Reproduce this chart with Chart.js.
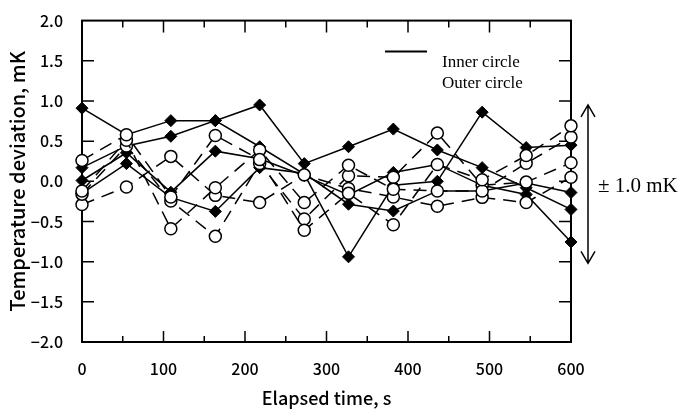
<!DOCTYPE html>
<html>
<head>
<meta charset="utf-8">
<script src="https://cdn.jsdelivr.net/npm/chart.js@4.4.0/dist/chart.umd.min.js"></script>
<style>
  html, body { margin: 0; padding: 0; background: #fff; }
</style>
</head>
<body>
<canvas id="chart" width="681" height="412"></canvas>
<script>
// elapsed time of each reading, s
const times = [0, 54.5, 109, 163.6, 218, 272.7, 327, 382, 436, 491, 545, 600];

// inner circle sensors (filled diamonds, solid lines), mK
const inner1 = [0.91, 0.58, 0.755, 0.755, 0.95, 0.22, 0.43, 0.65, 0.39, 0.17, -0.08, -0.35];
const inner2 = [0.17, 0.44, 0.56, 0.755, 0.43, 0.09, -0.94, -0.05, 0.0, 0.86, 0.42, 0.45];
const inner3 = [0.01, 0.355, -0.135, 0.375, 0.28, 0.07, -0.17, 0.11, 0.21, -0.05, -0.165, -0.755];
const inner4 = [-0.15, 0.22, -0.2, -0.375, 0.17, 0.10, -0.285, -0.37, -0.12, -0.12, -0.02, -0.14];

// outer circle sensors (open circles, dashed lines), mK
const outer1 = [0.26, 0.58, -0.196, 0.57, 0.27, -0.61, -0.15, -0.54, 0.21, 0.02, 0.32, 0.69];
const outer2 = [-0.12, 0.51, -0.59, -0.08, 0.39, -0.265, 0.20, -0.10, -0.12, -0.12, 0.225, 0.55];
const outer3 = [-0.16, 0.44, -0.245, -0.685, 0.22, -0.47, 0.07, 0.05, 0.60, -0.05, -0.01, 0.23];
const outer4 = [-0.29, -0.07, 0.31, -0.175, -0.265, 0.08, -0.09, -0.195, -0.31, -0.20, -0.265, 0.05];

const legendLabels = ["Inner circle", "Outer circle"];
const rangeLabel = "\u00b1 1.0 mK";

const GOTHIC = "'Noto Sans CJK JP', 'Noto Sans', sans-serif";
const SERIF = "'Liberation Serif', 'DejaVu Serif', serif";

function toPoints(values) {
  return values.map((v, i) => ({ x: times[i], y: v }));
}

function innerSet(values) {
  return {
    data: toPoints(values),
    showLine: true,
    borderColor: "#000",
    borderWidth: 1.5,
    pointStyle: "rectRot",
    pointRadius: 6,
    pointBackgroundColor: "#000",
    pointBorderColor: "#000",
    pointBorderWidth: 1,
    clip: false,
  };
}

function outerSet(values) {
  return {
    data: toPoints(values),
    showLine: true,
    borderColor: "#000",
    borderWidth: 1.5,
    borderDash: [13, 8],
    pointStyle: "circle",
    pointRadius: 6,
    pointBackgroundColor: "#fff",
    pointBorderColor: "#000",
    pointBorderWidth: 1.5,
    clip: false,
  };
}

// frame, inward ticks, legend and the ±1 mK arrow
const decorations = {
  id: "decorations",
  beforeDatasetsDraw(chart) {
    const { ctx, chartArea: a, scales } = chart;
    const xs = scales.x, ys = scales.y;
    ctx.save();
    ctx.strokeStyle = "#000";
    ctx.lineWidth = 2;
    ctx.strokeRect(a.left, a.top, a.right - a.left, a.bottom - a.top);
    ctx.lineWidth = 1.5;
    ctx.beginPath();
    for (let t = 50; t < 600; t += 50) {
      const px = xs.getPixelForValue(t);
      const major = t % 100 === 0;
      ctx.moveTo(px, a.bottom);
      ctx.lineTo(px, a.bottom - (major ? 11 : 6));
      ctx.moveTo(px, a.top);
      ctx.lineTo(px, a.top + (major ? 12 : 7));
    }
    for (let v = -1.5; v <= 1.5; v += 0.5) {
      const py = ys.getPixelForValue(v);
      ctx.moveTo(a.left, py);
      ctx.lineTo(a.left + 12, py);
      ctx.moveTo(a.right, py);
      ctx.lineTo(a.right - 12, py);
    }
    ctx.stroke();
    ctx.restore();
  },
  afterDraw(chart) {
    const { ctx, chartArea: a, scales } = chart;
    const ys = scales.y;
    ctx.save();
    ctx.fillStyle = "#000";
    ctx.strokeStyle = "#000";
    // legend
    ctx.lineWidth = 2;
    ctx.beginPath();
    ctx.moveTo(385, 51.5);
    ctx.lineTo(427, 51.5);
    ctx.stroke();
    ctx.font = "17px " + SERIF;
    ctx.textBaseline = "middle";
    ctx.textAlign = "left";
    ctx.fillText(legendLabels[0], 442, 63);
    ctx.fillText(legendLabels[1], 442, 84);
    // double arrow
    const ax = a.right + 17;
    const yTop = ys.getPixelForValue(0.95);
    const yBot = ys.getPixelForValue(-1.02);
    ctx.lineWidth = 1.5;
    ctx.beginPath();
    ctx.moveTo(ax, yTop);
    ctx.lineTo(ax, yBot);
    ctx.moveTo(ax - 7, yTop + 12);
    ctx.lineTo(ax, yTop);
    ctx.lineTo(ax + 7, yTop + 12);
    ctx.moveTo(ax - 7, yBot - 12);
    ctx.lineTo(ax, yBot);
    ctx.lineTo(ax + 7, yBot - 12);
    ctx.stroke();
    ctx.font = "21px " + SERIF;
    ctx.fillText(rangeLabel, a.right + 27, ys.getPixelForValue(-0.06));
    ctx.restore();
  },
};

new Chart(document.getElementById("chart"), {
  type: "scatter",
  data: {
    datasets: [
      outerSet(outer1), outerSet(outer2), outerSet(outer3), outerSet(outer4),
      innerSet(inner1), innerSet(inner2), innerSet(inner3), innerSet(inner4),
    ],
  },
  options: {
    responsive: false,
    animation: false,
    layout: { padding: { top: 16, right: 110, left: 0, bottom: 0 } },
    plugins: { legend: { display: false }, tooltip: { enabled: false } },
    scales: {
      x: {
        type: "linear",
        min: 0,
        max: 600,
        grid: { display: false },
        border: { display: false },
        ticks: {
          stepSize: 100,
          padding: 9,
          color: "#000",
          font: { family: GOTHIC, size: 16, weight: "500" },
        },
        title: {
          display: true,
          text: "Elapsed time, s",
          color: "#000",
          padding: { top: 0, bottom: 3 },
          font: { family: GOTHIC, size: 18, weight: "500" },
        },
        afterFit(scale) { scale.height = 70; },
      },
      y: {
        min: -2,
        max: 2,
        grid: { display: false },
        border: { display: false },
        ticks: {
          stepSize: 0.5,
          padding: 11,
          color: "#000",
          font: { family: GOTHIC, size: 16, weight: "500" },
          callback: (v) => v.toFixed(1).replace("-", "\u2212"),
        },
        title: {
          display: true,
          text: "Temperature deviation, mK",
          color: "#000",
          padding: { top: 5, bottom: 0 },
          font: { family: GOTHIC, size: 20, weight: "500" },
        },
        afterFit(scale) { scale.width = 82; },
      },
    },
  },
  plugins: [decorations],
});
</script>
</body>
</html>
